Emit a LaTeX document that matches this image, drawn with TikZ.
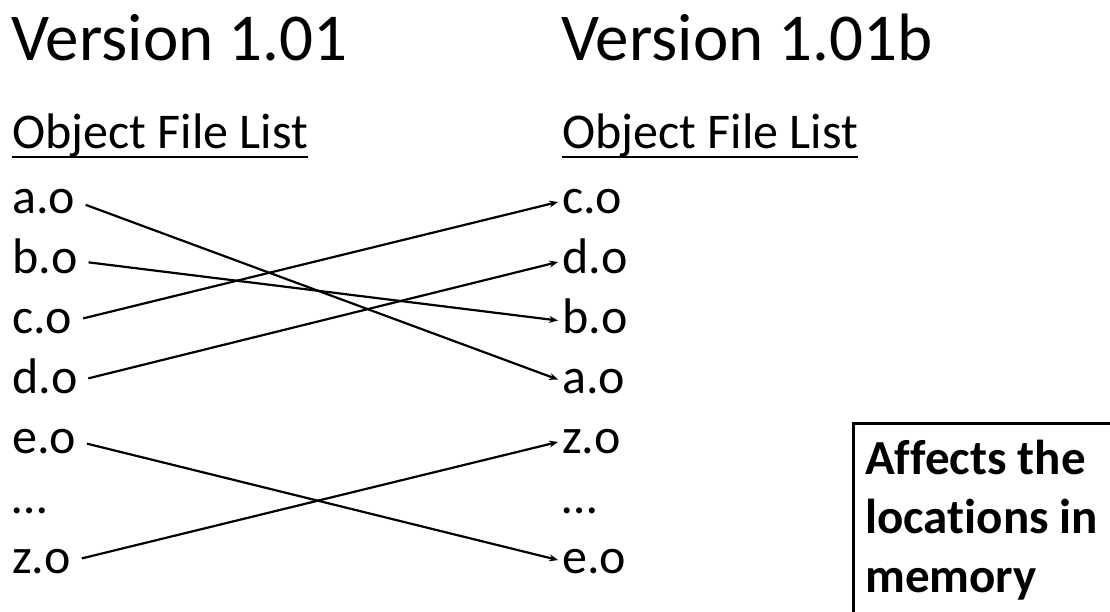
\documentclass[tikz,border=0pt]{standalone}
\usepackage{fontspec}
\setmainfont{Carlito}[Ligatures=NoCommon]
\usetikzlibrary{arrows.meta}
\begin{document}
\begin{tikzpicture}[x=1pt,y=-1pt,
  title/.style={anchor=base west,inner sep=0pt,font=\fontsize{67}{80}\selectfont},
  heading/.style={anchor=base west,inner sep=0pt,font=\fontsize{50}{60}\selectfont},
  item/.style={anchor=base west,inner sep=0pt,text height=24pt,text depth=0pt,
    font=\fontsize{50}{60}\selectfont},
  link/.style={line width=2.2pt,shorten <=11pt,shorten >=4pt,
    -{Stealth[length=9pt,width=7pt]}},
  underl/.style={line width=2.6pt},
  note/.style={anchor=base west,inner sep=0pt,align=left,
    font=\fontsize{49}{59}\selectfont\bfseries}]
\useasboundingbox (0,0) rectangle (1110,611);
\fill[white] (0,0) rectangle (1110,611);

% column titles
\node[title] (t1) at (11,60) {Version 1.01};
\node[title] (t2) at (561,60) {Version 1.01b};

% underlined headings
\node[heading] (h1) at (12,148) {Object File List};
\node[heading] (h2) at (562,148) {Object File List};
\draw[underl] ([yshift=-9pt]h1.base west) -- ([yshift=-9pt]h1.base east);
\draw[underl] ([yshift=-9pt]h2.base west) -- ([yshift=-9pt]h2.base east);

% old link order
\node[item] (la) at (12,213) {a.o};
\node[item] (lb) at (12,273) {b.o};
\node[item] (lc) at (12,333) {c.o};
\node[item] (ld) at (12,393) {d.o};
\node[item] (le) at (12,453) {e.o};
\node[item] (ldots) at (12,513) {\ldots};
\node[item] (lz) at (12,573) {z.o};

% new link order
\node[item] (rc) at (562,213) {c.o};
\node[item] (rd) at (562,273) {d.o};
\node[item] (rb) at (562,333) {b.o};
\node[item] (ra) at (562,393) {a.o};
\node[item] (rz) at (562,453) {z.o};
\node[item] (rdots) at (562,513) {\ldots};
\node[item] (re) at (562,573) {e.o};

% where each object file moves
\draw[link] (la.east) -- (ra.west);
\draw[link] (lb.east) -- (rb.west);
\draw[link] (lc.east) -- (rc.west);
\draw[link] (ld.east) -- (rd.west);
\draw[link] (le.east) -- (re.west);
\draw[link] (lz.east) -- (rz.west);

% note box, running off the edge
\begin{scope}
  \clip (0,0) rectangle (1110,611);
  \draw[line width=3pt] (853,423) rectangle (1130,640);
\end{scope}
\node[note] (note) at (865,592) {Affects the\\locations in\\memory};
\end{tikzpicture}
\end{document}
